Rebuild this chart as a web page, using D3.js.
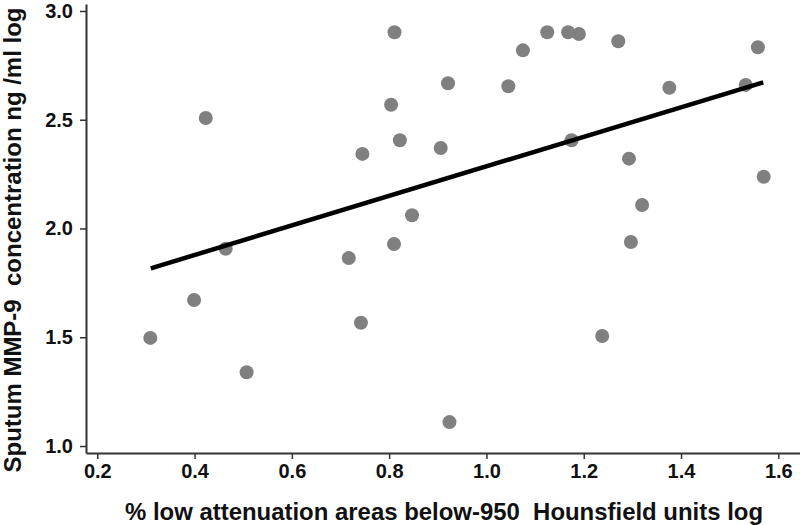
<!DOCTYPE html>
<html>
<head>
<meta charset="utf-8">
<script src="https://cdn.jsdelivr.net/npm/d3@7"></script>
<style>
  html, body { margin: 0; padding: 0; background: #fff; }
  svg { display: block; }
  text { font-family: "Liberation Sans", Arial, Helvetica, sans-serif; }
</style>
</head>
<body>
<svg id="chart" width="800" height="525"></svg>
<script>
// ---- data ----
const xValues = [0.309, 0.399, 0.423, 0.464, 0.507, 0.717, 0.742, 0.745, 0.804, 0.811,
                 0.810, 0.822, 0.847, 0.906, 0.921, 0.924, 1.045, 1.075, 1.125, 1.168,
                 1.175, 1.190, 1.238, 1.271, 1.293, 1.297, 1.320, 1.376, 1.533, 1.558, 1.570];
const yValues = [1.497, 1.671, 2.508, 1.907, 1.339, 1.864, 1.567, 2.343, 2.569, 2.902,
                 1.929, 2.406, 2.061, 2.370, 2.668, 1.110, 2.654, 2.819, 2.902, 2.902,
                 2.406, 2.894, 1.506, 2.861, 2.321, 1.938, 2.108, 2.647, 2.660, 2.833, 2.238];
const fitX = [0.310, 1.569];
const fitY = [1.817, 2.672];
const xTicks = [0.2, 0.4, 0.6, 0.8, 1.0, 1.2, 1.4, 1.6];
const yTicks = [1.0, 1.5, 2.0, 2.5, 3.0];
const xTitle = "% low attenuation areas below-950  Hounsfield units log";
const yTitle = "Sputum MMP-9  concentration ng /ml log";

// ---- layout ----
const svg = d3.select("#chart");
const x = d3.scaleLinear().domain([0.1768, 1.6446]).range([86, 800]);
const y = d3.scaleLinear().domain([0.968, 3.032]).range([453, 4]);
const axisColor = "#333";

// axes
const xAxis = svg.append("g").attr("transform", "translate(0,453)")
  .call(d3.axisBottom(x).tickValues(xTicks).tickFormat(d3.format(".1f")).tickSizeInner(6).tickSizeOuter(0).tickPadding(5));
const yAxis = svg.append("g").attr("transform", "translate(86,0)")
  .call(d3.axisLeft(y).tickValues(yTicks).tickFormat(d3.format(".1f")).tickSizeInner(6).tickSizeOuter(0).tickPadding(7));

[xAxis, yAxis].forEach(g => {
  g.select(".domain").attr("stroke", axisColor).attr("stroke-width", 2);
  g.selectAll(".tick line").attr("stroke", axisColor).attr("stroke-width", 1.5);
  g.selectAll(".tick text").attr("fill", "#111").attr("font-size", 20).attr("font-weight", "bold")
    .style("font-family", "'Liberation Sans', Arial, sans-serif");
});

// points
const pts = xValues.map((v, i) => ({x: v, y: yValues[i]}));
svg.append("g").selectAll("circle").data(pts).join("circle")
  .attr("cx", d => x(d.x)).attr("cy", d => y(d.y)).attr("r", 7)
  .attr("fill", "#808080");

// fit line
const line = d3.line().x(d => x(d[0])).y(d => y(d[1]));
svg.append("path").datum(fitX.map((v, i) => [v, fitY[i]]))
  .attr("d", line).attr("stroke", "#000").attr("stroke-width", 4.5).attr("fill", "none");

// titles
svg.append("text").attr("x", 444).attr("y", 520).attr("text-anchor", "middle")
  .attr("font-size", 24).attr("font-weight", "bold").attr("fill", "#111")
  .style("white-space", "pre")
  .attr("textLength", 638).attr("lengthAdjust", "spacingAndGlyphs")
  .text(xTitle);
svg.append("text").attr("transform", "translate(21,240) rotate(-90)").attr("text-anchor", "middle")
  .attr("font-size", 23).attr("font-weight", "bold").attr("fill", "#111")
  .style("white-space", "pre")
  .attr("textLength", 465).attr("lengthAdjust", "spacingAndGlyphs")
  .text(yTitle);
</script>
</body>
</html>
